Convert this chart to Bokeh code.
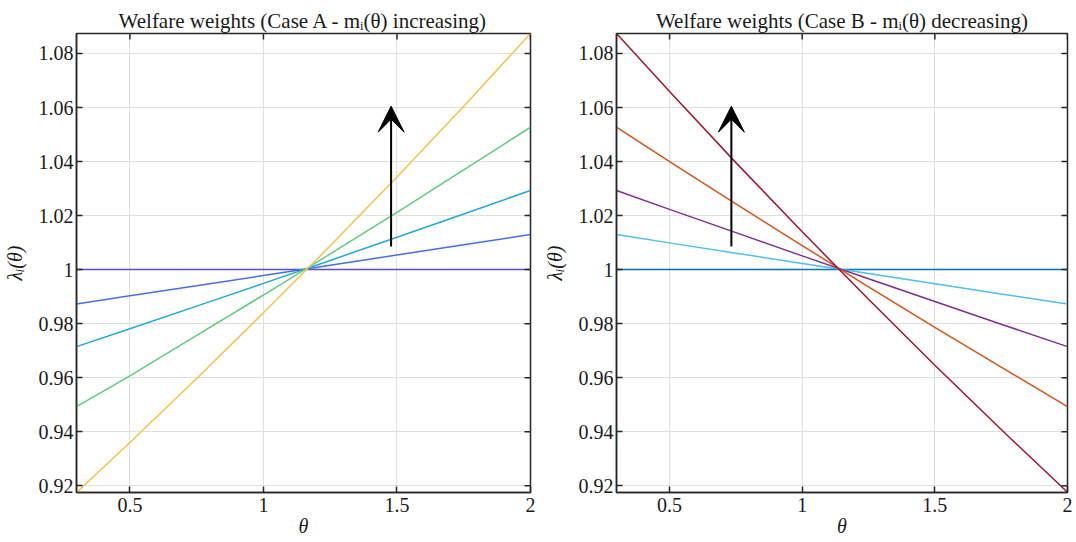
import math
from bokeh.plotting import figure
from bokeh.layouts import row
from bokeh.models import Range1d, FixedTicker, CustomJSTickFormatter, Arrow, VeeHead
from bokeh.embed import file_html
from bokeh.resources import INLINE

# ---------------- data ----------------
theta = [0.3, 0.5, 0.75, 1.0, 1.25, 1.5, 1.75, 2.0]

# Case A - m_i(theta) increasing
caseA_1 = [1.0, 1.0, 1.0, 1.0, 1.0, 1.0, 1.0, 1.0]
caseA_2 = [0.9873, 0.9903, 0.9940, 0.9978, 1.0016, 1.0054, 1.0092, 1.0130]
caseA_3 = [0.9715, 0.9781, 0.9865, 0.9949, 1.0034, 1.0120, 1.0206, 1.0293]
caseA_4 = [0.9493, 0.9607, 0.9757, 0.9906, 1.0058, 1.0212, 1.0369, 1.0527]
caseA_5 = [0.9175, 0.9360, 0.9597, 0.9840, 1.0088, 1.0343, 1.0605, 1.0874]

# Case B - m_i(theta) decreasing
caseB_1 = [1.0, 1.0, 1.0, 1.0, 1.0, 1.0, 1.0, 1.0]
caseB_2 = [1.0130, 1.0099, 1.0061, 1.0023, 0.9986, 0.9948, 0.9910, 0.9873]
caseB_3 = [1.0293, 1.0223, 1.0137, 1.0051, 0.9966, 0.9882, 0.9798, 0.9715]
caseB_4 = [1.0527, 1.0400, 1.0243, 1.0089, 0.9936, 0.9786, 0.9639, 0.9493]
caseB_5 = [1.0874, 1.0659, 1.0396, 1.0140, 0.9890, 0.9646, 0.9408, 0.9176]

colorsA = ["#5a4fc2", "#4a6cf0", "#1fa8dc", "#5fcb7c", "#f6c144"]
colorsB = ["#0072bd", "#4dbeee", "#7e2f8e", "#d95319", "#a2142f"]

x_ticks = [0.5, 1.0, 1.5, 2.0]
y_ticks = [0.92, 0.94, 0.96, 0.98, 1.0, 1.02, 1.04, 1.06, 1.08]

arrowA_theta = 1.478
arrowB_theta = 0.733
arrow_lambda = [1.0086, 1.0605]

titleA = "Welfare weights (Case A - m\u1d62(\u03b8) increasing)"
titleB = "Welfare weights (Case B - m\u1d62(\u03b8) decreasing)"
xlabel = "\u03b8"
ylabel = "\u03bb\u1d62(\u03b8)"

FONT = "Liberation Serif"
AXC = "#262626"
TXT = "#1a1a1a"

fmt_y = CustomJSTickFormatter(code="return tick.toFixed(2).replace(/\\.?0+$/, '');")
fmt_x = CustomJSTickFormatter(code="return tick.toFixed(1).replace(/\\.?0+$/, '');")

all_vals = caseA_1 + caseA_2 + caseA_3 + caseA_4 + caseA_5 + caseB_1 + caseB_2 + caseB_3 + caseB_4 + caseB_5
y_lo, y_hi = min(all_vals), max(all_vals)
x_lo, x_hi = min(theta), max(theta)


def make_panel(title, series, colors, arrow_theta, width, bl, br):
    p = figure(width=width, height=542, output_backend="svg", toolbar_location=None,
               x_range=Range1d(x_lo, x_hi), y_range=Range1d(y_lo, y_hi),
               min_border_left=bl, min_border_right=br, min_border_top=33,
               min_border_bottom=50, title=title)
    p.title.text_font = FONT
    p.title.text_font_size = "21px"
    p.title.text_font_style = "normal"
    p.title.text_color = TXT
    p.title.align = "center"
    p.title.standoff = 2
    p.background_fill_color = "white"
    p.border_fill_color = "white"
    p.outline_line_color = AXC
    p.outline_line_width = 1.5

    for ax, tk, fm in ((p.xaxis[0], x_ticks, fmt_x), (p.yaxis[0], y_ticks, fmt_y)):
        ax.ticker = FixedTicker(ticks=tk)
        ax.formatter = fm
        ax.major_label_text_font = FONT
        ax.major_label_text_font_size = "20px"
        ax.major_label_text_color = TXT
        ax.axis_line_color = AXC
        ax.axis_line_width = 1.5
        ax.major_tick_in = 6
        ax.major_tick_out = 0
        ax.major_tick_line_color = AXC
        ax.major_tick_line_width = 1.5
        ax.minor_tick_line_color = None
        ax.axis_label_text_font = FONT
        ax.axis_label_text_font_size = "20px"
        ax.axis_label_text_font_style = "italic"
        ax.axis_label_text_color = TXT
    p.xaxis[0].axis_label = xlabel
    p.yaxis[0].axis_label = ylabel
    p.xaxis[0].major_label_standoff = 5
    p.xaxis[0].axis_label_standoff = 0
    p.yaxis[0].major_label_standoff = 3
    p.yaxis[0].axis_label_standoff = 10

    p.xgrid.ticker = FixedTicker(ticks=x_ticks)
    p.ygrid.ticker = FixedTicker(ticks=y_ticks)
    p.grid.grid_line_color = "#e0e0e0"
    p.grid.grid_line_width = 1

    for ys, c in zip(series, colors):
        p.line(theta, ys, line_color=c, line_width=1.5)

    # inward ticks on the top and right edges of the box (clipped to the frame)
    p.scatter(x=x_ticks, y=[y_hi] * len(x_ticks), marker="dash", size=12,
              angle=math.pi / 2, line_color=AXC, line_width=1.5)
    p.scatter(x=[x_hi] * len(y_ticks), y=y_ticks, marker="dash", size=12,
              line_color=AXC, line_width=1.5)

    p.add_layout(Arrow(end=VeeHead(size=26, fill_color="black", line_color="black", line_width=1),
                       x_start=arrow_theta, y_start=arrow_lambda[0],
                       x_end=arrow_theta, y_end=arrow_lambda[1],
                       line_color="black", line_width=2))
    return p


pA = make_panel(titleA, [caseA_1, caseA_2, caseA_3, caseA_4, caseA_5], colorsA,
                arrowA_theta, 540, 74, 10)
pB = make_panel(titleB, [caseB_1, caseB_2, caseB_3, caseB_4, caseB_5], colorsB,
                arrowB_theta, 536, 72, 9)

layout = row(pA, pB)
open("out.html", "w").write(file_html(layout, INLINE))
